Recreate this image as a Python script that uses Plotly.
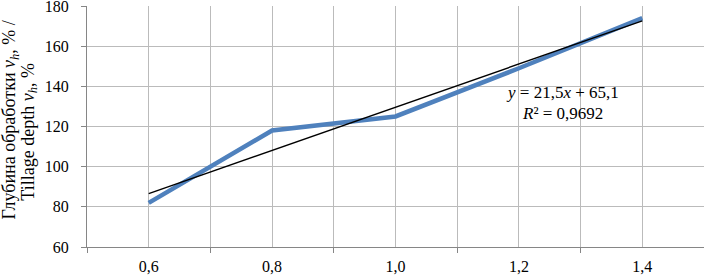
import numpy as np
import plotly.graph_objects as go

categories = ["0,6", "0,8", "1,0", "1,2", "1,4"]
depth_values = [82, 118, 125, 149, 174]
title_lines = ["Глубина обработки <i>v<sub>h</sub></i>, % /",
               "Tillage depth <i>v<sub>h</sub></i>, %"]

x_idx = np.arange(1, len(categories) + 1)
slope, intercept = np.polyfit(x_idx, depth_values, 1)
fit = slope * x_idx + intercept
y_arr = np.array(depth_values, dtype=float)
r2 = 1 - np.sum((y_arr - fit) ** 2) / np.sum((y_arr - y_arr.mean()) ** 2)

def fmt(v, d):
    return f"{v:.{d}f}".replace(".", ",")

FONT = "Liberation Serif"
GRID = "#BBBBBB"
AXIS = "#868686"

fig = go.Figure()
fig.add_trace(go.Scatter(
    x=x_idx.tolist(), y=depth_values, mode="lines",
    line=dict(color="#4F81BD", width=4.5),
    showlegend=False, hoverinfo="skip"))
fig.add_trace(go.Scatter(
    x=x_idx.tolist(), y=fit.tolist(), mode="lines",
    line=dict(color="#000000", width=1.4),
    showlegend=False, hoverinfo="skip"))

# regression equation, two lines
fig.add_annotation(
    x=4.35, y=136.7, xref="x", yref="y",
    text=f"<i>y</i> = {fmt(slope,1)}<i>x</i> + {fmt(intercept,1)}",
    showarrow=False, font=dict(family=FONT, size=17, color="#000000"))
fig.add_annotation(
    x=4.357, y=126.7, xref="x", yref="y",
    text=f"<i>R</i>² = {fmt(r2,4)}",
    showarrow=False, font=dict(family=FONT, size=17, color="#000000"))

# rotated y-axis title, two lines
fig.add_annotation(
    x=0, y=0.5145, xref="paper", yref="paper",
    xanchor="center", yanchor="middle", xshift=-76.5, yshift=3,
    textangle=-90, showarrow=False,
    text=title_lines[0], font=dict(family=FONT, size=18, color="#000000"))
fig.add_annotation(
    x=0, y=0.4647, xref="paper", yref="paper",
    xanchor="center", yanchor="middle", xshift=-58.3, yshift=3,
    textangle=-90, showarrow=False,
    text=title_lines[1], font=dict(family=FONT, size=18, color="#000000"))

fig.update_layout(
    width=704, height=275,
    margin=dict(l=87, r=0, t=6, b=28),
    paper_bgcolor="white", plot_bgcolor="white",
    font=dict(family=FONT, size=16, color="#000000"),
    xaxis=dict(
        range=[0.5, 5.5], tickmode="array", tickvals=x_idx.tolist(), ticktext=categories,
        showgrid=True, gridcolor=GRID, gridwidth=1, automargin=False,
        ticks="", showline=True, linecolor=AXIS, linewidth=1,
        zeroline=False, ticklabelstandoff=5, ticklabeloverflow="allow",
        minor=dict(tickmode="array", tickvals=[i + 0.5 for i in range(0, 6)],
                   showgrid=True, gridcolor=GRID, gridwidth=1,
                   ticks="outside", ticklen=5, tickcolor=AXIS),
        tickfont=dict(family=FONT, size=16)),
    yaxis=dict(
        range=[60, 180], tickmode="linear", tick0=60, dtick=20,
        showgrid=True, gridcolor=GRID, gridwidth=1, automargin=False,
        ticks="outside", ticklen=5, tickcolor=AXIS,
        showline=True, linecolor=AXIS, linewidth=1,
        zeroline=False, ticklabeloverflow="allow", ticklabelstandoff=9,
        tickfont=dict(family=FONT, size=16)),
)

fig.write_html("out.html",
               config={"displayModeBar": False},
               post_script="document.body.style.margin='0';document.body.style.padding='0';")
